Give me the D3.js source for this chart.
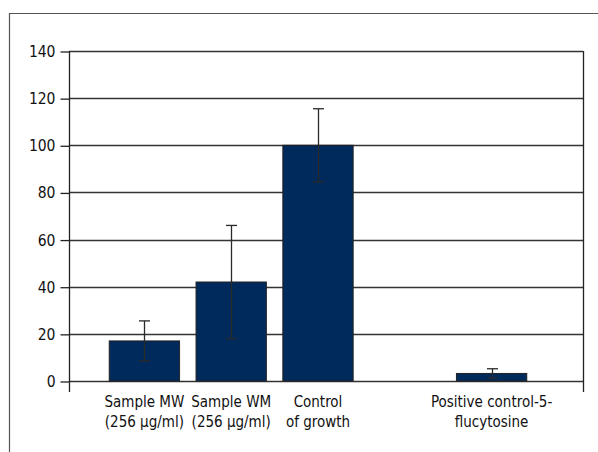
<!DOCTYPE html>
<html><head><meta charset="utf-8">
<script src="https://cdn.jsdelivr.net/npm/d3@7"></script>
<style>body{margin:0;background:#fff}svg{display:block}</style>
</head><body>
<svg id="c" width="598" height="452"></svg>
<script>
const categories = ["Sample MW|(256 µg/ml)", "Sample WM|(256 µg/ml)", "Control|of growth", "", "Positive control-5-|flucytosine"];
const values = [17, 42, 100, null, 3.2];
const errors = [8.5, 24, 15.5, null, 2];
const yTicks = [0, 20, 40, 60, 80, 100, 120, 140];

const svg = d3.select("#c");
const font = "'DejaVu Sans Condensed','Liberation Sans',sans-serif";
const plot = {left: 69, right: 583, top: 51, bottom: 381};

// outer frame
svg.append("path").attr("d", "M9.5,452 V13.5 H598").attr("fill", "none").attr("stroke", "#555").attr("stroke-width", 1.2);

const y = d3.scaleLinear().domain([0, 140]).range([plot.bottom, plot.top]);
const x = d3.scaleBand().domain(categories.map((d, i) => i)).range([101, 535]).paddingInner(0.19).paddingOuter(0.095);

// gridlines
svg.append("g").selectAll("line").data(yTicks).join("line")
  .attr("x1", plot.left).attr("x2", plot.right)
  .attr("y1", d => Math.round(y(d)) + 0.5).attr("y2", d => Math.round(y(d)) + 0.5)
  .attr("stroke", "#333").attr("stroke-width", 1.3);

// y axis
const yAxis = d3.axisLeft(y).tickValues(yTicks).tickSize(9).tickPadding(5);
const ga = svg.append("g").attr("transform", `translate(${plot.left + 0.5},0.5)`).call(yAxis);
ga.select(".domain").remove();
ga.selectAll(".tick line").attr("stroke", "#222").attr("stroke-width", 1.3);
ga.selectAll(".tick text").attr("font-family", font).attr("font-size", 15.5).attr("fill", "#111");
svg.append("line").attr("x1", plot.left + 0.5).attr("x2", plot.left + 0.5).attr("y1", plot.top).attr("y2", plot.bottom + 11).attr("stroke", "#222").attr("stroke-width", 1.3);
svg.append("line").attr("x1", plot.right + 0.5).attr("x2", plot.right + 0.5).attr("y1", plot.top).attr("y2", plot.bottom + 11).attr("stroke", "#222").attr("stroke-width", 1.3);

const data = categories.map((c, i) => ({i, c, v: values[i], e: errors[i]}));
const bars = data.filter(d => d.v != null);

svg.append("g").selectAll("rect").data(bars).join("rect")
  .attr("x", d => x(d.i)).attr("width", x.bandwidth())
  .attr("y", d => y(d.v)).attr("height", d => y(0) - y(d.v))
  .attr("fill", "#002a5c").attr("stroke", "#222").attr("stroke-width", 1);

// error bars
const eb = svg.append("g").attr("stroke", "#2a2a2a").attr("stroke-width", 1.3);
bars.forEach(d => {
  const cx = Math.round(x(d.i) + x.bandwidth() / 2) + 0.5;
  eb.append("line").attr("x1", cx).attr("x2", cx).attr("y1", y(d.v + d.e)).attr("y2", y(d.v - d.e));
  eb.append("line").attr("x1", cx - 5.5).attr("x2", cx + 5.5).attr("y1", y(d.v + d.e)).attr("y2", y(d.v + d.e));
  eb.append("line").attr("x1", cx - 5.5).attr("x2", cx + 5.5).attr("y1", y(d.v - d.e)).attr("y2", y(d.v - d.e));
});

// x labels
const lg = svg.append("g");
data.filter(d => d.c).forEach(d => {
  const t = lg.append("text").attr("x", x(d.i) + x.bandwidth() / 2).attr("y", 407)
    .attr("text-anchor", "middle").attr("font-family", font).attr("font-size", 15).attr("fill", "#111");
  d.c.split("|").forEach((s, k) => t.append("tspan").attr("x", x(d.i) + x.bandwidth() / 2).attr("dy", k ? 20 : 0).text(s));
});
</script>
</body></html>
